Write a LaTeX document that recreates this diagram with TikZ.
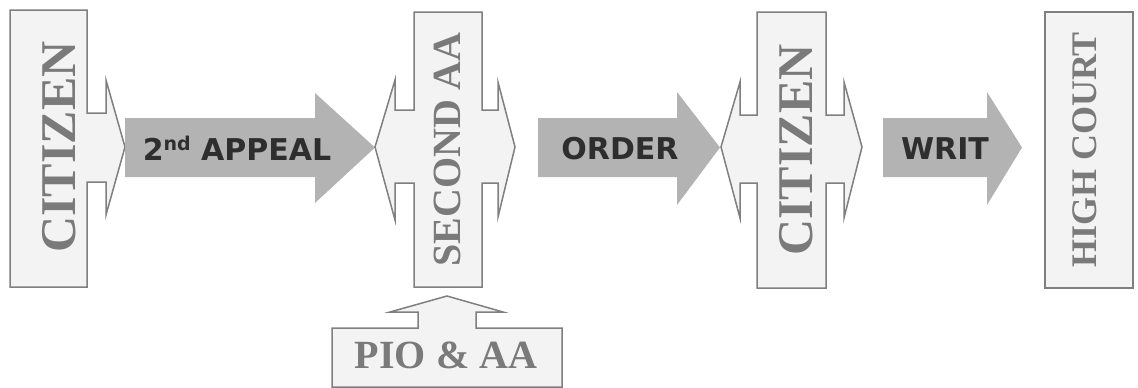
\documentclass[tikz,border=0pt]{standalone}
\usepackage{fontspec}
\setmainfont{Liberation Serif}
\newfontfamily\arrowfont{DejaVu Sans}
\definecolor{boxfill}{HTML}{F3F3F3}
\definecolor{boxline}{HTML}{7F7F7F}
\definecolor{arrowfill}{HTML}{B3B3B3}
\definecolor{serifgray}{HTML}{7A7A7A}
\definecolor{darktext}{HTML}{2E2E2E}
\tikzset{
  callout/.style={fill=boxfill, draw=boxline, line width=1.5pt, line join=miter},
  blockarrow/.style={fill=arrowfill, draw=none},
  boxtext/.style={inner sep=0pt, text=serifgray, font=\bfseries},
  arrowtext/.style={inner sep=0pt, text=darktext, anchor=base, font=\arrowfont\bfseries\fontsize{30}{30}\selectfont},
}
\begin{document}
\begin{tikzpicture}[x=1pt,y=-1pt]
\useasboundingbox (0,0) rectangle (1138,388);
% CITIZEN 1
\draw[callout] (10,10) -- (87,10) -- (87,113) -- (106,113) -- (106,80) -- (125,147) -- (106,215) -- (106,182) -- (87,182) -- (87,287) -- (10,287) -- cycle;
\node[boxtext, rotate=90, font=\bfseries\fontsize{50}{50}\selectfont] (cit1) at (59,147) {CITIZEN};
% 2nd appeal arrow
\draw[blockarrow] (125,118) -- (315,118) -- (315,93) -- (375,147.5) -- (315,203) -- (315,177) -- (125,177) -- cycle;
\node[arrowtext] (appeal) at (237,160) {2\raisebox{10pt}{\fontsize{19}{19}\selectfont nd} APPEAL};
% SECOND AA
\draw[callout] (414,12) -- (482,12) -- (482,110) -- (498,110) -- (498,82) -- (515,147) -- (498,217) -- (498,183) -- (482,183) -- (482,287) -- (414,287) -- (414,183) -- (395,183) -- (395,220) -- (375,147) -- (395,80) -- (395,110) -- (414,110) -- cycle;
\node[boxtext, rotate=90, font=\bfseries\fontsize{40}{40}\selectfont] (second) at (447.5,149.5) {SECOND AA};
% PIO & AA
\draw[callout] (332,328) -- (418,328) -- (418,312) -- (390,312) -- (447,296) -- (503,312) -- (476,312) -- (476,328) -- (562,328) -- (562,387) -- (332,387) -- cycle;
\node[boxtext, font=\bfseries\fontsize{40}{40}\selectfont] (pio) at (446,355.5) {PIO \& AA};
% ORDER arrow
\draw[blockarrow] (538,118) -- (677,118) -- (677,92) -- (720,147.5) -- (677,205) -- (677,177) -- (538,177) -- cycle;
\node[arrowtext] (order) at (620,159) {ORDER};
% CITIZEN 2
\draw[callout] (757,12) -- (826,12) -- (826,115) -- (844,115) -- (844,82) -- (862,147) -- (844,218) -- (844,183) -- (826,183) -- (826,288) -- (757,288) -- (757,183) -- (740,183) -- (740,218) -- (721,147) -- (740,82) -- (740,115) -- (757,115) -- cycle;
\node[boxtext, rotate=90, font=\bfseries\fontsize{50}{50}\selectfont] (cit2) at (796,150) {CITIZEN};
% WRIT arrow
\draw[blockarrow] (883,118) -- (987,118) -- (987,92) -- (1022,147.5) -- (987,205) -- (987,177) -- (883,177) -- cycle;
\node[arrowtext] (writ) at (945,159) {WRIT};
% HIGH COURT
\draw[callout] (1045,12) rectangle (1133,288);
\node[boxtext, rotate=90, font=\bfseries\fontsize{36}{36}\selectfont] (hc) at (1085,150) {HIGH COURT};
\end{tikzpicture}
\end{document}
